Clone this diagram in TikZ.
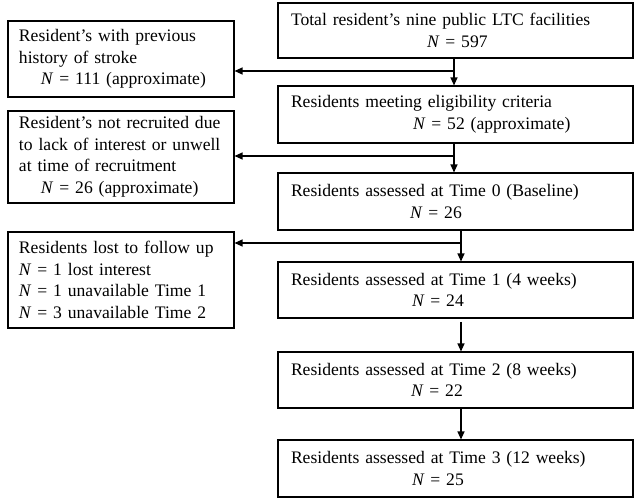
\documentclass[tikz,border=0pt]{standalone}
\usepackage{fontspec}
\setmainfont{Liberation Serif}
\usetikzlibrary{arrows.meta}
\begin{document}
\begin{tikzpicture}[x=1pt,y=-1pt,
  box/.style={draw, line width=1.1pt, inner ysep=0pt, align=left,
    font=\fontsize{17.6}{21.5}\selectfont},
  rbox/.style={box, text width=329pt, inner xsep=13pt, minimum height=#1pt},
  lbox/.style={box, text width=204pt, inner xsep=11pt, minimum height=#1pt},
  arr/.style={line width=1.2pt, -{Triangle[length=8pt,width=7pt]}},
  ln/.style={line width=1.2pt}]
\useasboundingbox (0,0) rectangle (638,502);
% right column
\node[rbox=55] (b1) at (455.5,30.5) {Total resident’s nine public LTC facilities\\\hspace*{136pt}\textit{N} = 597};
\node[rbox=57] (b2) at (455.5,114.5) {Residents meeting eligibility criteria\\\hspace*{122pt}\textit{N} = 52 (approximate)};
\node[rbox=57] (b3) at (455.5,201.5) {Residents assessed at Time 0 (Baseline)\\\hspace*{119pt}\textit{N} = 26};
\node[rbox=56] (b4) at (455.5,290) {Residents assessed at Time 1 (4 weeks)\\\hspace*{121pt}\textit{N} = 24};
\node[rbox=56] (b5) at (455.5,380) {Residents assessed at Time 2 (8 weeks)\\\hspace*{120pt}\textit{N} = 22};
\node[rbox=57] (b6) at (455.5,468.5) {Residents assessed at Time 3 (12 weeks)\\\hspace*{121pt}\textit{N} = 25};
% left column
\node[lbox=76] (l1) at (121,59) {Resident’s with previous\\history of stroke\\\hspace*{22pt}\textit{N} = 111 (approximate)};
\node[lbox=92] (l2) at (121,157) {Resident’s not recruited due\\to lack of interest or unwell\\at time of recruitment\\\hspace*{22pt}\textit{N} = 26 (approximate)};
\node[lbox=96] (l3) at (121,280) {Residents lost to follow up\\\textit{N} = 1 lost interest\\\textit{N} = 1 unavailable Time 1\\\textit{N} = 3 unavailable Time 2};
% junctions
\coordinate (j1) at (454,71);
\coordinate (j2) at (454,156);
\coordinate (j3) at (461,243);
\coordinate (j4) at (461,322);
% connectors
\draw[arr] (b1.south -| j1) -- (b2.north -| j1);
\draw[arr] (j1) -- (j1 -| l1.east);
\draw[arr] (b2.south -| j2) -- (b3.north -| j2);
\draw[arr] (j2) -- (j2 -| l2.east);
\draw[arr] (b3.south -| j3) -- (b4.north -| j3);
\draw[arr] (j3) -- (j3 -| l3.east);
\draw[arr] (j4) -- (b5.north -| j4);
\draw[arr] (b5.south -| j4) -- (b6.north -| j4);
\end{tikzpicture}
\end{document}
